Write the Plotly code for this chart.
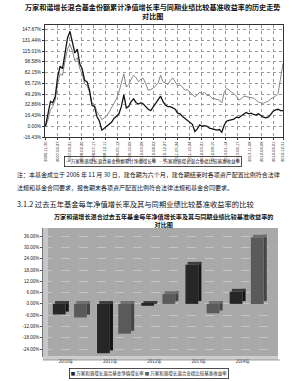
import plotly.graph_objects as go
import pandas as pd

W, H = 300, 381
def py(p): return 1 - p / H
def px(p): return p / W

# ---------------- data ----------------
months = pd.date_range("2006-11-30", periods=98, freq="ME")
fund_cum = [0, 20, 38, 36, 45, 75, 92, 88, 110, 135,
            145, 128, 112, 118, 95, 88, 70, 68, 55, 32,
            30, 15, 8, -6, -3, 0, 2, 6, 12, 15,
            19, 30, 48, 28, 30, 38, 42, 36, 34, 36,
            34, 30, 26, 24, 30, 36, 40, 46, 38, 32,
            30, 30, 28, 26, 20, 19, 15, 12, 8, 6,
            3, -8, -4, 2, 0, 1, 0, -3, -4, -5,
            -6, -5, -9, 2, 8, 9, 10, 11, 14, 13,
            16, 18, 21, 19, 20, 18, 17, 19, 16, 14,
            13, 14, 18, 23, 25, 26, 24, 24]
bench_cum = [0, 10, 25, 30, 40, 65, 80, 78, 100, 118,
             125, 115, 100, 105, 88, 80, 65, 62, 52, 35,
             33, 22, 17, 10, 13, 16, 22, 28, 35, 42,
             52, 65, 80, 60, 64, 72, 78, 74, 68, 72,
             73, 65, 55, 56, 58, 62, 66, 78, 68, 66,
             64, 70, 74, 68, 62, 63, 60, 55, 56, 52,
             48, 45, 48, 52, 50, 52, 47, 47, 43, 42,
             40, 40, 36, 52, 58, 55, 52, 50, 46, 40,
             42, 46, 45, 44, 44, 43, 40, 37, 36, 35,
             37, 38, 42, 44, 46, 50, 70, 96]
line_yticks = [-16.43, 0.00, 16.43, 32.86, 49.29, 65.72, 82.15, 98.58, 115.01, 131.44, 147.87]
line_xticks = ["2006-11-30", "2007-04-27", "2007-09-21", "2008-02-20", "2008-07-17",
               "2008-12-11", "2009-05-12", "2009-10-09", "2010-03-08", "2010-08-02",
               "2010-12-27", "2011-05-24", "2011-10-24", "2012-03-21", "2012-08-15",
               "2013-01-14", "2013-06-17", "2013-11-08", "2014-04-08", "2014-09-01",
               "2014-12-31"]

years = ["2010年", "2011年", "2012年", "2013年", "2014年"]
fund_year = [-5.6, -26.2, -1.0, 20.8, 6.5]
bench_year = [-7.2, -15.8, 5.2, -5.0, 35.2]
bar_yticks = [-24, -18, -12, -6, 0, 6, 12, 18, 24, 30, 36]

name_fund_line = "万家和谐增长混合基金份额累计净值增长率"
name_bench_line = "万家和谐增长混合业绩比较基准收益率"
name_fund_bar = "万家和谐增长混合基金净值增长率"
name_bench_bar = "万家和谐增长混合业绩比较基准收益率"

CJK = "Noto Sans CJK SC"
NUM = "Liberation Sans"

fig = go.Figure()

# ---------------- line chart ----------------
fig.add_trace(go.Scatter(x=months, y=bench_cum, mode="lines", name=name_bench_line,
                         line=dict(color="#7a7a7a", width=0.9), xaxis="x", yaxis="y",
                         showlegend=False))
fig.add_trace(go.Scatter(x=months, y=fund_cum, mode="lines", name=name_fund_line,
                         line=dict(color="#161616", width=1.3), xaxis="x", yaxis="y",
                         showlegend=False))

# ---------------- bar chart (pseudo 3D) ----------------
D = 1.5  # depth shift in % for 3D look
def bar_set(vals, off, front, side, top, name):
    fig.add_trace(go.Bar(x=years, y=vals, base=[D] * len(vals), offset=off + 0.29, width=0.07,
                         marker=dict(color=side, line=dict(width=0)), xaxis="x2", yaxis="y2",
                         showlegend=False, hoverinfo="skip"))
    fig.add_trace(go.Bar(x=years, y=[D] * len(vals), base=[max(v, 0) for v in vals],
                         offset=off + 0.05, width=0.31,
                         marker=dict(color=top, line=dict(width=0)), xaxis="x2", yaxis="y2",
                         showlegend=False, hoverinfo="skip"))
    fig.add_trace(go.Bar(x=years, y=vals, offset=off, width=0.29, name=name,
                         marker=dict(color=front, line=dict(width=0)), xaxis="x2", yaxis="y2",
                         showlegend=False))

bar_set(fund_year, -0.39, "#262626", "#141414", "#3c3c3c", name_fund_bar)
bar_set(bench_year, 0.09, "#5a5a5a", "#444444", "#6e6e6e", name_bench_bar)

# ---------------- layout ----------------
tick_font = dict(family=NUM, size=4.8, color="#222")
fig.update_layout(
    width=W, height=H, margin=dict(l=0, r=0, t=0, b=0, pad=0, autoexpand=False),
    paper_bgcolor="white", plot_bgcolor="white",
    barmode="overlay",
    xaxis=dict(domain=[px(45), px(283)], type="date", automargin=False,
               range=["2006-11-24", "2014-12-31"],
               tickvals=line_xticks, ticktext=line_xticks, tickangle=-90,
               tickfont=dict(family=NUM, size=4, color="#222"),
               showgrid=True, gridcolor="#9a9a9a", gridwidth=0.5, griddash="dot",
               showline=True, linecolor="#333", linewidth=0.8, mirror=True,
               ticks="outside", ticklen=2, tickcolor="#333", zeroline=False),
    yaxis=dict(domain=[py(137), py(25)], range=[-16.43, 154.8], automargin=False,
               tickvals=line_yticks, ticktext=[f"{v:.2f}%" for v in line_yticks],
               tickfont=tick_font,
               showgrid=True, gridcolor="#9a9a9a", gridwidth=0.5, griddash="dot",
               showline=True, linecolor="#333", linewidth=0.8, mirror=True,
               ticks="outside", ticklen=2, tickcolor="#333", zeroline=False),
    xaxis2=dict(domain=[px(43), px(278)], anchor="y2", type="category", automargin=False,
                range=[-0.613, 4.704], tickfont=dict(family=CJK, size=4.5, color="#222"),
                showgrid=False, showline=False, ticks="", ticklabelshift=-4),
    yaxis2=dict(domain=[py(357), py(228)], anchor="x2", range=[-28.2, 40.3], automargin=False,
                tickvals=bar_yticks, ticktext=[f"{v:.2f}%" for v in bar_yticks],
                tickfont=dict(family=NUM, size=4.5, color="#222"),
                showgrid=True, gridcolor="#c4c4c4", gridwidth=0.6, griddash="dash",
                showline=True, linecolor="#777", linewidth=0.8,
                ticks="outside", ticklen=2, tickcolor="#555", zeroline=False),
)

shapes = [
    dict(type="rect", xref="paper", yref="paper", x0=px(43), x1=px(278), y0=py(357), y1=py(228),
         fillcolor="#a9a9a9", line=dict(width=0), layer="below"),
    dict(type="rect", xref="paper", yref="paper", x0=px(43), x1=px(48), y0=py(360), y1=py(228),
         fillcolor="#c6c6c6", line=dict(width=0), layer="below"),
    dict(type="rect", xref="paper", yref="paper", x0=px(43), x1=px(278), y0=py(360), y1=py(356),
         fillcolor="#cdcdcd", line=dict(width=0), layer="below"),
    dict(type="line", xref="paper", yref="paper", x0=px(43), x1=px(280), y0=py(360), y1=py(360),
         line=dict(color="#888", width=0.8)),
]
fig.update_layout(shapes=shapes)

ann = []
def txt(t, x, y, size, anchor="center", bold=False, color="#111", **kw):
    ann.append(dict(text=f"<b>{t}</b>" if bold else t, x=px(x), y=py(y), xref="paper", yref="paper",
                    xanchor=anchor, yanchor="middle", showarrow=False,
                    font=dict(family=CJK, size=size, color=color), **kw))

txt("万家和谐增长混合基金份额累计净值增长率与同期业绩比较基准收益率的历史走势<br>对比图",
    152, 11.5, 7.1, bold=True)
txt("— " + name_fund_line + "  <span style='color:#777'>—</span> " + name_bench_line, 152.5, 161.5, 4.5,
    bordercolor="#222", borderwidth=0.8, borderpad=1)
txt("注：本基金成立于 2006 年 11 月 30 日，建仓期为六个月，建仓期结束时各项资产配置比例符合法律",
    15, 174, 6, anchor="left")
txt("法规和基金合同要求，报告期末各项资产配置比例符合法律法规和基金合同要求。", 15, 188, 6, anchor="left")
txt("3.1.2 过去五年基金每年净值增长率及其与同期业绩比较基准收益率的比较", 15, 204, 7.3, anchor="left")
txt("万家和谐增长混合过去五年基金每年净值增长率及其与同期业绩比较基准收益率的<br>对比图",
    163, 220.5, 6.1, bold=True)
txt("<span style='color:#262626'>■</span> " + name_fund_bar + " <span style='color:#5a5a5a'>■</span> "
    + name_bench_bar, 149, 373.5, 4.5, bordercolor="#222", borderwidth=0.8, borderpad=1)
fig.update_layout(annotations=ann)

fig.write_html("out.html")
